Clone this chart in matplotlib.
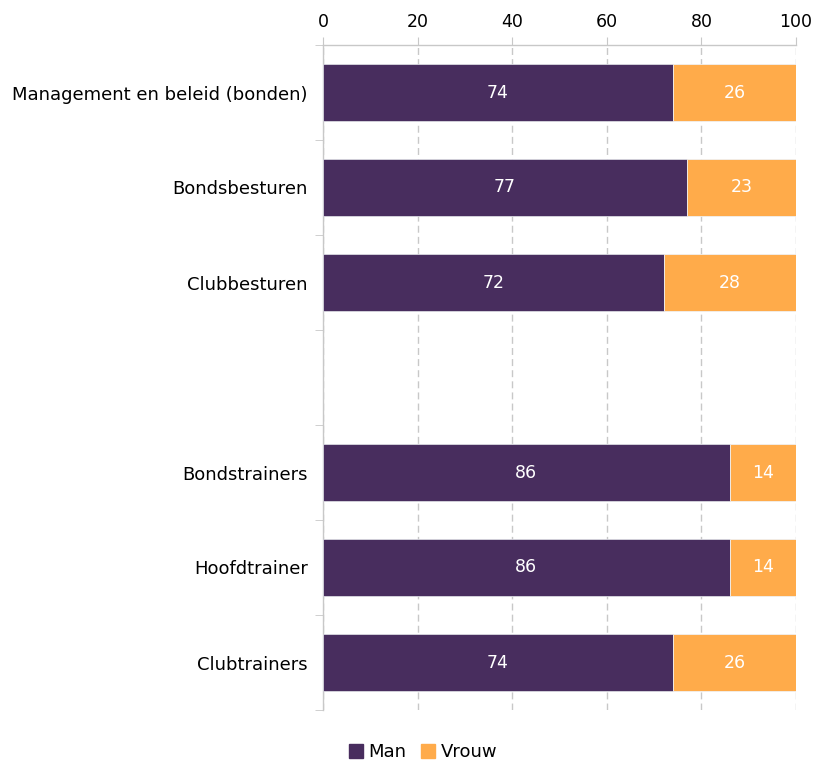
import matplotlib
matplotlib.use("Agg")
import matplotlib.pyplot as plt
from matplotlib.patches import Patch
import numpy as np

categories = ["Management en beleid (bonden)", "Bondsbesturen", "Clubbesturen", "",
              "Bondstrainers", "Hoofdtrainer", "Clubtrainers"]
man = [74, 77, 72, None, 86, 86, 74]
vrouw = [26, 23, 28, None, 14, 14, 26]
xticks = [0, 20, 40, 60, 80, 100]

c_man = "#482d5e"
c_vrouw = "#ffab4a"
grid_c = "#c8c8c8"

plt.rcParams['font.family'] = ['DejaVu Sans']
fig = plt.figure(figsize=(8.16, 7.62), dpi=100)
ax = fig.add_axes([323/816, 1-710/762, (796-323)/816, (710-45)/762])

ypos = np.arange(len(categories))
for i, (m, v) in enumerate(zip(man, vrouw)):
    if m is None:
        continue
    ax.barh(i, m, height=0.59, color=c_man, edgecolor="#d8d8e0", linewidth=0.6, zorder=3)
    ax.barh(i, v, left=m, height=0.59, color=c_vrouw, edgecolor="#f0f0f0", linewidth=0.6, zorder=3)
    ax.text(m/2, i, f"{m}", color="white", ha="center", va="center", fontsize=12.5, zorder=4)
    ax.text(m + v/2, i, f"{v}", color="white", ha="center", va="center", fontsize=12.5, zorder=4)

ax.set_xlim(0, 100)
ax.set_ylim(len(categories)-0.5, -0.5)
ax.xaxis.tick_top()
ax.set_xticks(xticks)
ax.set_xticklabels([str(t) for t in xticks], fontsize=12.5)
ax.tick_params(axis='x', length=6, color=grid_c, pad=4)
ax.xaxis.grid(True, linestyle=(0, (5, 3)), color=grid_c, linewidth=1, zorder=0)

ax.set_yticks(ypos)
ax.set_yticklabels(categories, fontsize=13)
ax.tick_params(axis='y', which='major', length=0, pad=11)
ax.set_yticks(np.arange(-0.5, len(categories), 1), minor=True)
ax.tick_params(axis='y', which='minor', length=6, color=grid_c)

for s in ['right', 'bottom']:
    ax.spines[s].set_visible(False)
for s in ['left', 'top']:
    ax.spines[s].set_color(grid_c)
    ax.spines[s].set_linewidth(1)

handles = [Patch(color=c_man, label="Man"), Patch(color=c_vrouw, label="Vrouw")]
fig.legend(handles=handles, loc='center', bbox_to_anchor=(423/816, 1-752/762), ncol=2,
           frameon=False, fontsize=13, handlelength=0.8, handleheight=0.8,
           handletextpad=0.3, columnspacing=0.8)

fig.savefig("out.png", dpi=100)
